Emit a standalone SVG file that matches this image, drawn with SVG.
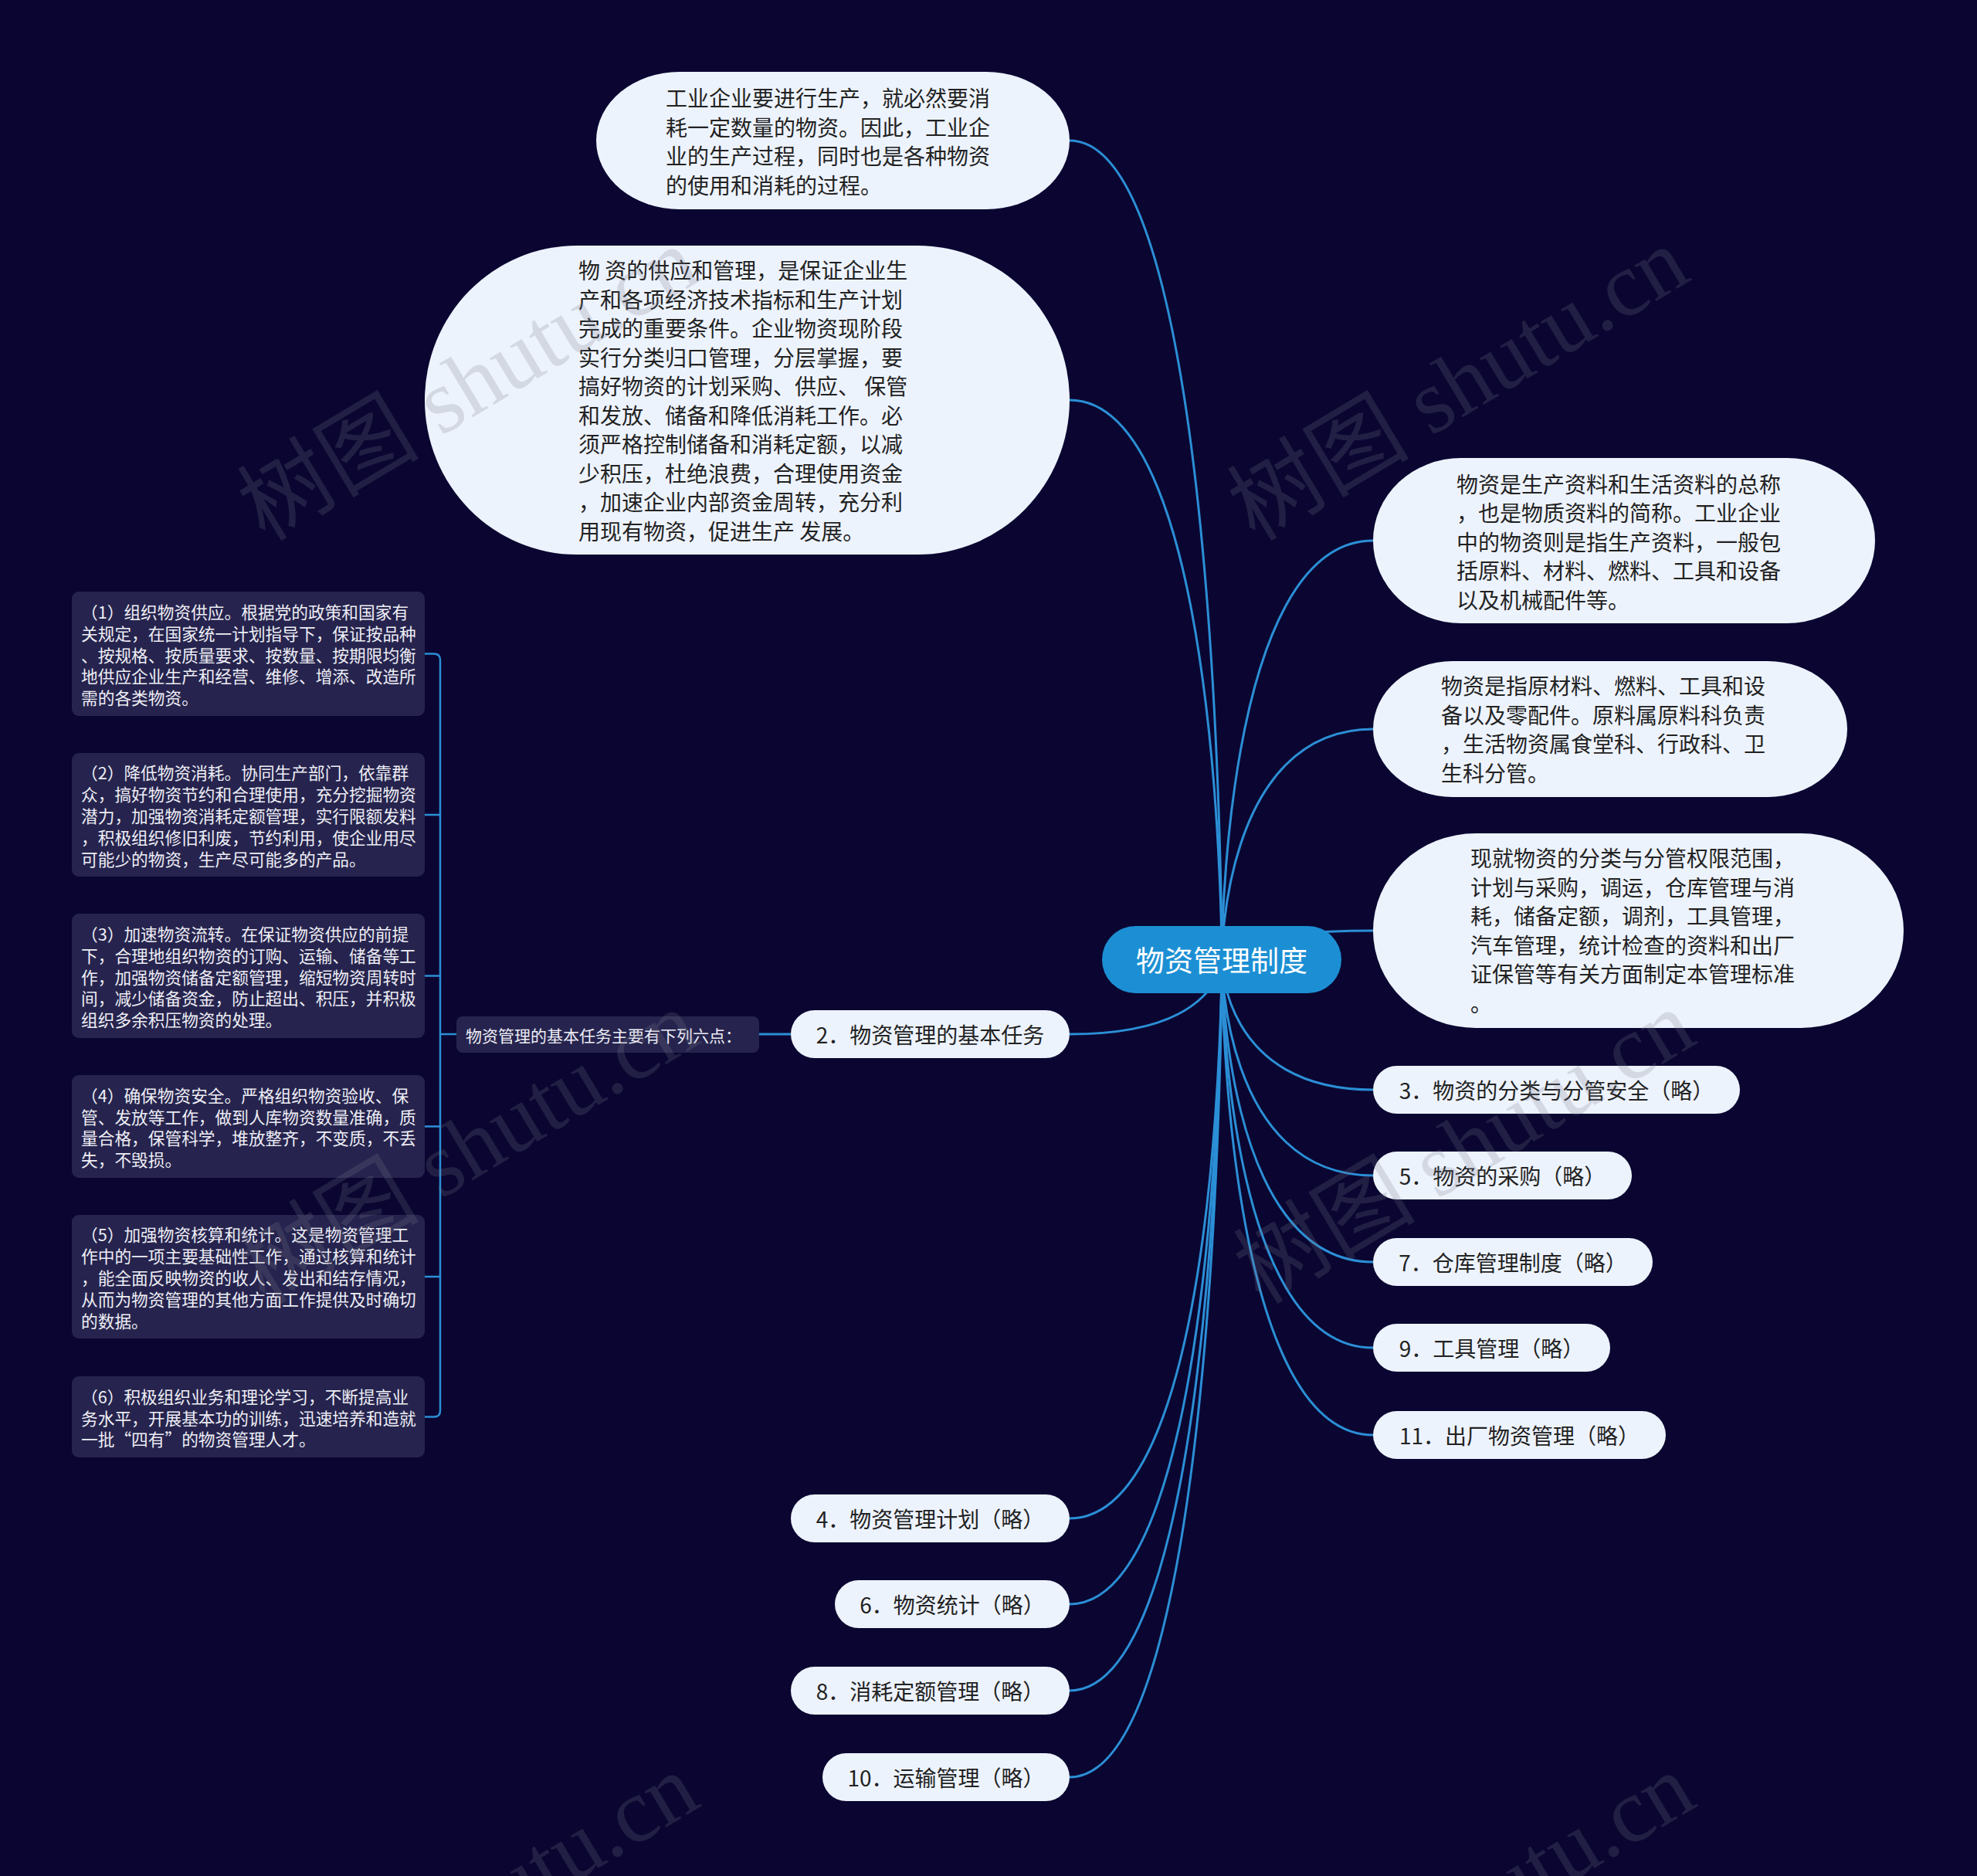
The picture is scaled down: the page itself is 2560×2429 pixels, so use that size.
<svg xmlns="http://www.w3.org/2000/svg" width="2560" height="2429" viewBox="0 0 2560 2429">
<style>
.bg{fill:#0a0631}
.link{fill:none;stroke:#2b8fd6;stroke-width:3}
.brk{fill:none;stroke:#2b8fd6;stroke-width:2.5}
.light{fill:#edf3fd}
.dark{fill:#26244e}
.root{fill:#1c8fd4}
text,tspan{font-family:"Noto Sans CJK SC","Noto Sans",sans-serif;dominant-baseline:central}
.t28{font-size:28px;fill:#222}
.tc{text-anchor:middle}
.t22{font-size:21.7px;fill:#eeeef5}
.t21{font-size:21px;fill:#eeeef5}
.troot{font-size:37px;fill:#ffffff;text-anchor:middle}
.wm{font-family:"Liberation Serif","Noto Sans CJK SC",serif;font-size:118px;fill:#7a7a8c;opacity:0.22;dominant-baseline:alphabetic}
</style>
<rect class="bg" x="0" y="0" width="2560" height="2429"/>

<g id="connectors">
<path class="link" d="M1582,1242 C1582,1242 1582,182 1385,182"/>
<path class="link" d="M1582,1242 C1582,1242 1582,518 1385,518"/>
<path class="link" d="M1582,1242 C1582,1242 1582,700 1778,700"/>
<path class="link" d="M1582,1242 C1582,1242 1582,944 1778,944"/>
<path class="link" d="M1582,1242 C1582,1242 1582,1205 1778,1205"/>
<path class="link" d="M1582,1242 C1582,1242 1582,1411 1778,1411"/>
<path class="link" d="M1582,1242 C1582,1242 1582,1522 1778,1522"/>
<path class="link" d="M1582,1242 C1582,1242 1582,1634 1778,1634"/>
<path class="link" d="M1582,1242 C1582,1242 1582,1745 1778,1745"/>
<path class="link" d="M1582,1242 C1582,1242 1582,1858 1778,1858"/>
<path class="link" d="M1582,1242 C1582,1242 1582,1339 1385,1339"/>
<path class="link" d="M1582,1242 C1582,1242 1582,1966 1385,1966"/>
<path class="link" d="M1582,1242 C1582,1242 1582,2077 1385,2077"/>
<path class="link" d="M1582,1242 C1582,1242 1582,2189 1385,2189"/>
<path class="link" d="M1582,1242 C1582,1242 1582,2301 1385,2301"/>
<path class="link" d="M1024,1339 H983"/>
<path class="brk" d="M591,1339 H570"/>
<path class="brk" d="M550,846.5 H562 Q570,846.5 570,854.5 V1826.5 Q570,1834.5 562,1834.5 H550"/>
<path class="brk" d="M550,1055 H570 M550,1263.5 H570 M550,1458.5 H570 M550,1653 H570"/>
</g>

<g id="root">
<rect class="root" x="1427" y="1199" width="310" height="87" rx="43.5"/>
<text class="troot" x="1582" y="1242">物资管理制度</text>
</g>

<g id="n-top1">
<rect class="light" x="772" y="93" width="613" height="178" rx="108" ry="89"/>
<text class="t28"><tspan x="862" y="126">工业企业要进行生产，就必然要消</tspan><tspan x="862" y="163.5">耗一定数量的物资。因此，工业企</tspan><tspan x="862" y="201">业的生产过程，同时也是各种物资</tspan><tspan x="862" y="238.5">的使用和消耗的过程。</tspan></text>
</g>

<g id="n-top2">
<rect class="light" x="550" y="318" width="835" height="400" rx="197" ry="200"/>
<text class="t28"><tspan x="749" y="349">物 资的供应和管理，是保证企业生</tspan><tspan x="749" y="386.5">产和各项经济技术指标和生产计划</tspan><tspan x="749" y="424">完成的重要条件。企业物资现阶段</tspan><tspan x="749" y="461.5">实行分类归口管理，分层掌握，要</tspan><tspan x="749" y="499">搞好物资的计划采购、供应、 保管</tspan><tspan x="749" y="536.5">和发放、储备和降低消耗工作。必</tspan><tspan x="749" y="574">须严格控制储备和消耗定额，以减</tspan><tspan x="749" y="611.5">少积压，杜绝浪费，合理使用资金</tspan><tspan x="749" y="649">，加速企业内部资金周转，充分利</tspan><tspan x="749" y="686.5">用现有物资，促进生产 发展。</tspan></text>
</g>

<g id="n-a">
<rect class="light" x="1778" y="593" width="650" height="214" rx="114" ry="107"/>
<text class="t28"><tspan x="1886" y="625.5">物资是生产资料和生活资料的总称</tspan><tspan x="1886" y="663">，也是物质资料的简称。工业企业</tspan><tspan x="1886" y="700.5">中的物资则是指生产资料，一般包</tspan><tspan x="1886" y="738">括原料、材料、燃料、工具和设备</tspan><tspan x="1886" y="775.5">以及机械配件等。</tspan></text>
</g>

<g id="n-b">
<rect class="light" x="1778" y="856" width="614" height="176" rx="103" ry="88"/>
<text class="t28"><tspan x="1866" y="887">物资是指原材料、燃料、工具和设</tspan><tspan x="1866" y="924.5">备以及零配件。原料属原料科负责</tspan><tspan x="1866" y="962">，生活物资属食堂科、行政科、卫</tspan><tspan x="1866" y="999.5">生科分管。</tspan></text>
</g>

<g id="n-c">
<rect class="light" x="1778" y="1079" width="687" height="252" rx="133" ry="126"/>
<text class="t28"><tspan x="1904" y="1110">现就物资的分类与分管权限范围，</tspan><tspan x="1904" y="1147.5">计划与采购，调运，仓库管理与消</tspan><tspan x="1904" y="1185">耗，储备定额，调剂，工具管理，</tspan><tspan x="1904" y="1222.5">汽车管理，统计检查的资料和出厂</tspan><tspan x="1904" y="1260">证保管等有关方面制定本管理标准</tspan><tspan x="1904" y="1297.5">。</tspan></text>
</g>

<g id="n-3">
<rect class="light" x="1778" y="1380" width="475" height="62" rx="31"/>
<text class="t28 tc" x="2015.5" y="1411">3．物资的分类与分管安全（略）</text>
</g>
<g id="n-5">
<rect class="light" x="1778" y="1491" width="335" height="62" rx="31"/>
<text class="t28 tc" x="1945.5" y="1522">5．物资的采购（略）</text>
</g>
<g id="n-7">
<rect class="light" x="1778" y="1603" width="362" height="62" rx="31"/>
<text class="t28 tc" x="1959" y="1634">7．仓库管理制度（略）</text>
</g>
<g id="n-9">
<rect class="light" x="1778" y="1714" width="307" height="62" rx="31"/>
<text class="t28 tc" x="1931.5" y="1745">9．工具管理（略）</text>
</g>
<g id="n-11">
<rect class="light" x="1778" y="1827" width="379" height="62" rx="31"/>
<text class="t28 tc" x="1967.5" y="1858">11．出厂物资管理（略）</text>
</g>

<g id="n-2">
<rect class="light" x="1024" y="1308" width="361" height="62" rx="31"/>
<text class="t28 tc" x="1204.5" y="1339">2．物资管理的基本任务</text>
</g>
<g id="n-4">
<rect class="light" x="1024" y="1935" width="361" height="62" rx="31"/>
<text class="t28 tc" x="1204.5" y="1966">4．物资管理计划（略）</text>
</g>
<g id="n-6">
<rect class="light" x="1081" y="2046" width="304" height="62" rx="31"/>
<text class="t28 tc" x="1233" y="2077">6．物资统计（略）</text>
</g>
<g id="n-8">
<rect class="light" x="1024" y="2158" width="361" height="62" rx="31"/>
<text class="t28 tc" x="1204.5" y="2189">8．消耗定额管理（略）</text>
</g>
<g id="n-10">
<rect class="light" x="1065" y="2270" width="320" height="62" rx="31"/>
<text class="t28 tc" x="1225" y="2301">10．运输管理（略）</text>
</g>

<g id="n-summary">
<rect class="dark" x="591" y="1316" width="392" height="47" rx="8"/>
<text class="t21" x="603" y="1339.5">物资管理的基本任务主要有下列六点：</text>
</g>

<g id="task-1">
<rect class="dark" x="93" y="766" width="457" height="161" rx="9"/>
<text class="t22"><tspan x="105" y="790.9">（1）组织物资供应。根据党的政策和国家有</tspan><tspan x="105" y="818.7">关规定，在国家统一计划指导下，保证按品种</tspan><tspan x="105" y="846.5">、按规格、按质量要求、按数量、按期限均衡</tspan><tspan x="105" y="874.3">地供应企业生产和经营、维修、增添、改造所</tspan><tspan x="105" y="902.1">需的各类物资。</tspan></text>
</g>
<g id="task-2">
<rect class="dark" x="93" y="975" width="457" height="160" rx="9"/>
<text class="t22"><tspan x="105" y="999.4">（2）降低物资消耗。协同生产部门，依靠群</tspan><tspan x="105" y="1027.2">众，搞好物资节约和合理使用，充分挖掘物资</tspan><tspan x="105" y="1055">潜力，加强物资消耗定额管理，实行限额发料</tspan><tspan x="105" y="1082.8">，积极组织修旧利废，节约利用，使企业用尽</tspan><tspan x="105" y="1110.6">可能少的物资，生产尽可能多的产品。</tspan></text>
</g>
<g id="task-3">
<rect class="dark" x="93" y="1183" width="457" height="161" rx="9"/>
<text class="t22"><tspan x="105" y="1207.9">（3）加速物资流转。在保证物资供应的前提</tspan><tspan x="105" y="1235.7">下，合理地组织物资的订购、运输、储备等工</tspan><tspan x="105" y="1263.5">作，加强物资储备定额管理，缩短物资周转时</tspan><tspan x="105" y="1291.3">间，减少储备资金，防止超出、积压，并积极</tspan><tspan x="105" y="1319.1">组织多余积压物资的处理。</tspan></text>
</g>
<g id="task-4">
<rect class="dark" x="93" y="1392" width="457" height="133" rx="9"/>
<text class="t22"><tspan x="105" y="1416.8">（4）确保物资安全。严格组织物资验收、保</tspan><tspan x="105" y="1444.6">管、发放等工作，做到人库物资数量准确，质</tspan><tspan x="105" y="1472.4">量合格，保管科学，堆放整齐，不变质，不丢</tspan><tspan x="105" y="1500.2">失，不毁损。</tspan></text>
</g>
<g id="task-5">
<rect class="dark" x="93" y="1573" width="457" height="160" rx="9"/>
<text class="t22"><tspan x="105" y="1597.4">（5）加强物资核算和统计。这是物资管理工</tspan><tspan x="105" y="1625.2">作中的一项主要基础性工作，通过核算和统计</tspan><tspan x="105" y="1653">，能全面反映物资的收人、发出和结存情况，</tspan><tspan x="105" y="1680.8">从而为物资管理的其他方面工作提供及时确切</tspan><tspan x="105" y="1708.6">的数据。</tspan></text>
</g>
<g id="task-6">
<rect class="dark" x="93" y="1782" width="457" height="105" rx="9"/>
<text class="t22"><tspan x="105" y="1806.7">（6）积极组织业务和理论学习，不断提高业</tspan><tspan x="105" y="1834.5">务水平，开展基本功的训练，迅速培养和造就</tspan><tspan x="105" y="1862.3">一批“四有”的物资管理人才。</tspan></text>
</g>

<g id="watermarks">
<text class="wm" transform="translate(343,702) rotate(-31)">树图 shutu.cn</text>
<text class="wm" transform="translate(1625,702) rotate(-31)">树图 shutu.cn</text>
<text class="wm" transform="translate(343,1690) rotate(-31)">树图 shutu.cn</text>
<text class="wm" transform="translate(1633,1690) rotate(-31)">树图 shutu.cn</text>
<text class="wm" transform="translate(343,2678) rotate(-31)">树图 shutu.cn</text>
<text class="wm" transform="translate(1633,2678) rotate(-31)">树图 shutu.cn</text>
</g>
</svg>
